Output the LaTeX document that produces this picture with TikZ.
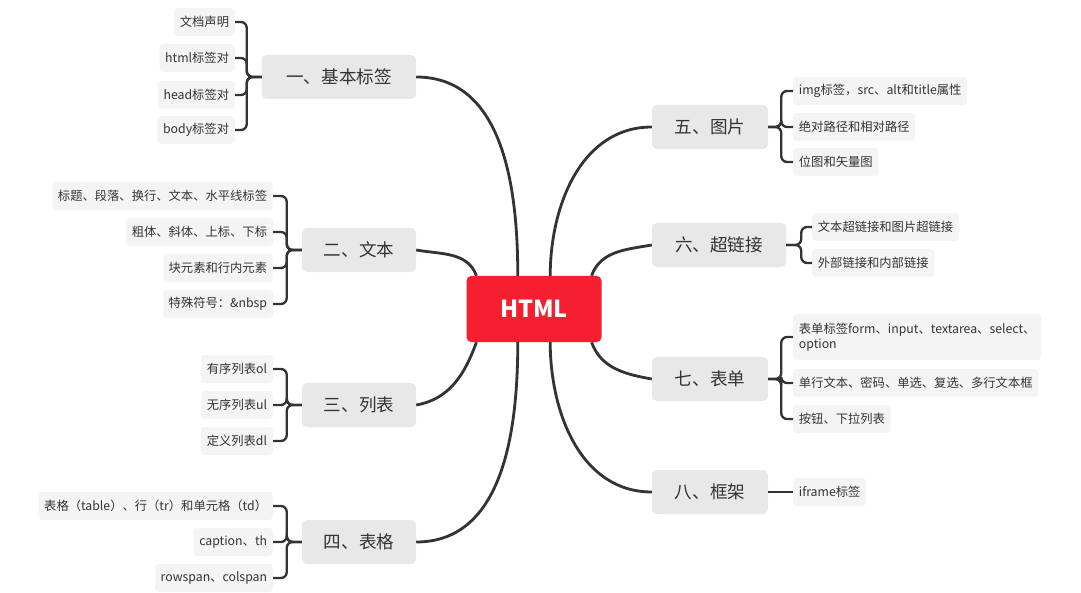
\documentclass[tikz,border=0pt]{standalone}
\usepackage{fontspec}
\setmainfont{Noto Sans CJK SC}
\usetikzlibrary{positioning}
\definecolor{hubred}{HTML}{F61F30}
\definecolor{ink}{HTML}{333333}
\definecolor{branchgray}{HTML}{E8E8E8}
\definecolor{leafgray}{HTML}{F4F4F4}
\tikzset{
 hub/.style={fill=hubred,rounded corners=4pt,minimum width=4.05cm,minimum height=1.98cm,text=white,font=\fontsize{20}{22}\selectfont\bfseries},
 branch/.style={fill=branchgray,rounded corners=4pt,minimum height=1.32cm,inner xsep=0.3cm,text=ink,font=\fontsize{15}{17}\selectfont},
 leaf/.style={fill=leafgray,rounded corners=3pt,minimum height=0.84cm,inner xsep=0.17cm,text=ink,font=\fontsize{10.5}{13}\selectfont,align=left},
 link/.style={draw=ink,line width=2.4pt},
 brace/.style={draw=ink,line width=2pt,rounded corners=5pt}
}
\begin{document}
\begin{tikzpicture}[x=0.03cm,y=-0.03cm]
 \useasboundingbox (0,0) rectangle (1081,593);
 \node[hub] (hub) at (534,309) {HTML};
 % left branches
 \node[branch,minimum width=4.62cm] (b1) at (339,77) {一、基本标签};
 \node[branch,minimum width=3.42cm] (b2) at (359,250) {二、文本};
 \node[branch,minimum width=3.42cm] (b3) at (359,405) {三、列表};
 \node[branch,minimum width=3.42cm] (b4) at (359,542) {四、表格};
 % right branches
 \node[branch,minimum width=3.48cm] (b5) at (710,127) {五、图片};
 \node[branch,minimum width=4.02cm] (b6) at (719,245) {六、超链接};
 \node[branch,minimum width=3.48cm] (b7) at (710,379) {七、表单};
 \node[branch,minimum width=3.48cm] (b8) at (710,492) {八、框架};
 \draw[link] (hub.116) to[out=90,in=0] (b1.east);
 \draw[link] (hub.150) to[out=110,in=-10] (b2.east);
 \draw[link] (hub.210) to[out=-110,in=10] (b3.east);
 \draw[link] (hub.244) to[out=-90,in=0] (b4.east);
 \draw[link] (hub.64) to[out=90,in=180] (b5.west);
 \draw[link] (hub.30) to[out=70,in=190] (b6.west);
 \draw[link] (hub.-30) to[out=-70,in=170] (b7.west);
 \draw[link] (hub.-64) to[out=-90,in=180] (b8.west);
 % leaves
 \node[leaf,anchor=east] (l11) at (235,22) {文档声明};
 \node[leaf,anchor=east] (l12) at (235,58) {html标签对};
 \node[leaf,anchor=east] (l13) at (235,95) {head标签对};
 \node[leaf,anchor=east] (l14) at (235,130) {body标签对};
 \node[leaf,anchor=east] (l21) at (273,196) {标题、段落、换行、文本、水平线标签};
 \node[leaf,anchor=east] (l22) at (273,232) {粗体、斜体、上标、下标};
 \node[leaf,anchor=east] (l23) at (273,268) {块元素和行内元素};
 \node[leaf,anchor=east] (l24) at (273,304) {特殊符号：\&nbsp};
 \node[leaf,anchor=east] (l31) at (273,369) {有序列表ol};
 \node[leaf,anchor=east] (l32) at (273,405) {无序列表ul};
 \node[leaf,anchor=east] (l33) at (273,441) {定义列表dl};
 \node[leaf,anchor=east] (l41) at (273,506) {表格（table）、行（tr）和单元格（td）};
 \node[leaf,anchor=east] (l42) at (273,542) {caption、th};
 \node[leaf,anchor=east] (l43) at (273,578) {rowspan、colspan};
 \node[leaf,anchor=west] (l51) at (793,91) {img标签，src、alt和title属性};
 \node[leaf,anchor=west] (l52) at (793,127) {绝对路径和相对路径};
 \node[leaf,anchor=west] (l53) at (793,162) {位图和矢量图};
 \node[leaf,anchor=west] (l61) at (812,227) {文本超链接和图片超链接};
 \node[leaf,anchor=west] (l62) at (812,263) {外部链接和内部链接};
 \node[leaf,anchor=west,minimum height=1.38cm] (l71) at (793,337) {表单标签form、input、textarea、select、\\option};
 \node[leaf,anchor=west] (l72) at (793,383) {单行文本、密码、单选、复选、多行文本框};
 \node[leaf,anchor=west] (l73) at (793,419) {按钮、下拉列表};
 \node[leaf,anchor=west] (l81) at (793,492) {iframe标签};
 % brackets
 \foreach \l in {l11,l12,l13,l14} \draw[brace] (b1.west) -- ++(-15,0) |- (\l.east);
 \foreach \l in {l21,l22,l23,l24} \draw[brace] (b2.west) -- ++(-15,0) |- (\l.east);
 \foreach \l in {l31,l32,l33} \draw[brace] (b3.west) -- ++(-15,0) |- (\l.east);
 \foreach \l in {l41,l42,l43} \draw[brace] (b4.west) -- ++(-15,0) |- (\l.east);
 \foreach \l in {l51,l52,l53} \draw[brace] (b5.east) -- ++(13,0) |- (\l.west);
 \foreach \l in {l61,l62} \draw[brace] (b6.east) -- ++(15,0) |- (\l.west);
 \foreach \l in {l71,l72,l73} \draw[brace] (b7.east) -- ++(13,0) |- (\l.west);
 \draw[brace] (b8.east) -- (l81.west);
\end{tikzpicture}
\end{document}
